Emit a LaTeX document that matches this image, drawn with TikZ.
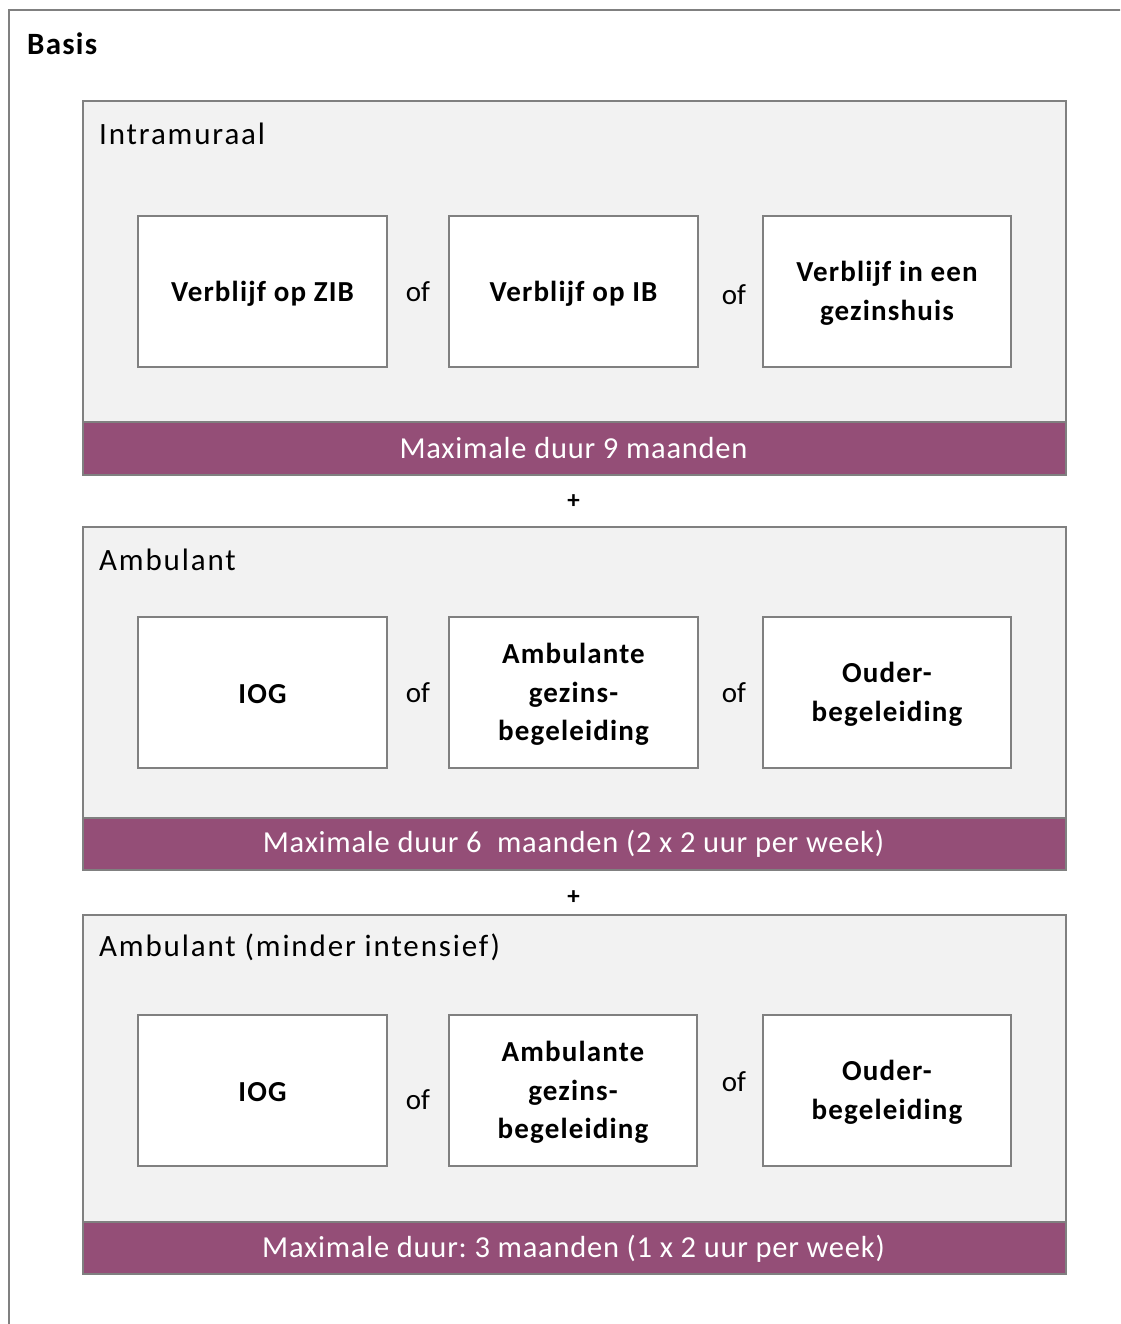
\documentclass[tikz,border=0pt]{standalone}
\usepackage{fontspec}
\setmainfont{Carlito}
\newfontfamily\titlefont[LetterSpace=6]{Carlito}
\newfontfamily\boxfont[LetterSpace=4]{Carlito}
\newfontfamily\barfont[LetterSpace=2.5]{Carlito}
\definecolor{plum}{HTML}{944E77}
\definecolor{panelfill}{HTML}{F2F2F2}
\definecolor{edgegray}{HTML}{808080}
\frenchspacing
\tikzset{
  panel/.style={draw=edgegray, line width=1.6pt, fill=panelfill, anchor=north west, minimum width=983pt, inner sep=0pt},
  bar/.style={draw=edgegray, line width=1.6pt, fill=plum, anchor=north west, minimum width=983pt, minimum height=53pt, inner sep=0pt},
  bartext/.style={text=white, font=\barfont\fontsize{30.5}{36}\selectfont, inner sep=0pt},
  option/.style={draw=edgegray, line width=1.6pt, fill=white, minimum width=249pt, minimum height=151pt, inner sep=0pt, align=center, font=\boxfont\bfseries\fontsize{29}{38.5}\selectfont},
  optext/.style={inner sep=0pt, align=center, font=\boxfont\bfseries\fontsize{29}{38.5}\selectfont},
  ortext/.style={font=\fontsize{29}{34}\selectfont, inner sep=0pt},
  title/.style={anchor=west, inner sep=0pt, font=\titlefont\fontsize{31}{36}\selectfont},
  plus/.style={font=\bfseries\fontsize{25}{28}\selectfont, inner sep=0pt}
}
\begin{document}
\frenchspacing
\begin{tikzpicture}[x=1pt,y=-1pt]
\useasboundingbox (0,0) rectangle (1120,1324);
\begin{scope}
\clip (0,0) rectangle (1120,1324);
\draw[edgegray, line width=1.6pt] (9,1340) -- (9,10) -- (1140,10);
\end{scope}
\node[anchor=west, inner sep=0pt, font=\boxfont\bfseries\fontsize{31}{36}\selectfont] (basis) at (27,44) {Basis};

% Panel 1
\node[panel, minimum height=374pt] (p1) at (82,100) {};
\node[bar] (b1) at (82,421) {};
\node[bartext] (b1t) at (573.5,448) {Maximale duur 9 maanden};
\node[title] (t1) at (99,134) {Intramuraal};
\node[option] (o11) at (262.5,291.5) {};
\node[option] (o12) at (573.5,291.5) {};
\node[option, minimum width=248pt] (o13) at (887,291.5) {};
\node[optext] at ([yshift=-2pt]o11.center) {Verblijf op ZIB};
\node[optext] at ([yshift=-2pt]o12.center) {Verblijf op IB};
\node[optext] at ([yshift=-2pt]o13.center) {Verblijf in een\\gezinshuis};
\node[ortext] (of11) at (418,292) {of};
\node[ortext] (of12) at (734,295) {of};

\node[plus] (plus1) at (573.5,502) {+};

% Panel 2
\node[panel, minimum height=343pt] (p2) at (82,526) {};
\node[bar, minimum height=52pt] (b2) at (82,817) {};
\node[bartext] (b2t) at (573.5,844) {Maximale duur 6\ \ maanden (2 x 2 uur per week)};
\node[title] (t2) at (99,560) {Ambulant};
\node[option] (o21) at (262.5,692.5) {};
\node[option] (o22) at (573.5,692.5) {};
\node[option, minimum width=248pt] (o23) at (887,692.5) {};
\node[optext] at ([yshift=-2pt]o21.center) {IOG};
\node[optext] at ([yshift=-2pt]o22.center) {Ambulante\\gezins-\\begeleiding};
\node[optext] at ([yshift=-2pt]o23.center) {Ouder-\\begeleiding};
\node[ortext] (of21) at (418,693) {of};
\node[ortext] (of22) at (734,693) {of};

\node[plus] (plus2) at (573.5,898) {+};

% Panel 3
\node[panel, minimum height=359pt] (p3) at (82,914) {};
\node[bar, minimum height=52pt] (b3) at (82,1221) {};
\node[bartext] (b3t) at (573.5,1249) {Maximale duur: 3 maanden (1 x 2 uur per week)};
\node[title] (t3) at (99,947) {Ambulant (minder intensief)};
\node[option] (o31) at (262.5,1090.5) {};
\node[option, minimum width=248pt] (o32) at (573,1090.5) {};
\node[option, minimum width=248pt] (o33) at (887,1090.5) {};
\node[optext] at ([yshift=-2pt]o31.center) {IOG};
\node[optext] at ([yshift=-2pt]o32.center) {Ambulante\\gezins-\\begeleiding};
\node[optext] at ([yshift=-2pt]o33.center) {Ouder-\\begeleiding};
\node[ortext] (of31) at (418,1100) {of};
\node[ortext] (of32) at (734,1082) {of};
\end{tikzpicture}
\end{document}
